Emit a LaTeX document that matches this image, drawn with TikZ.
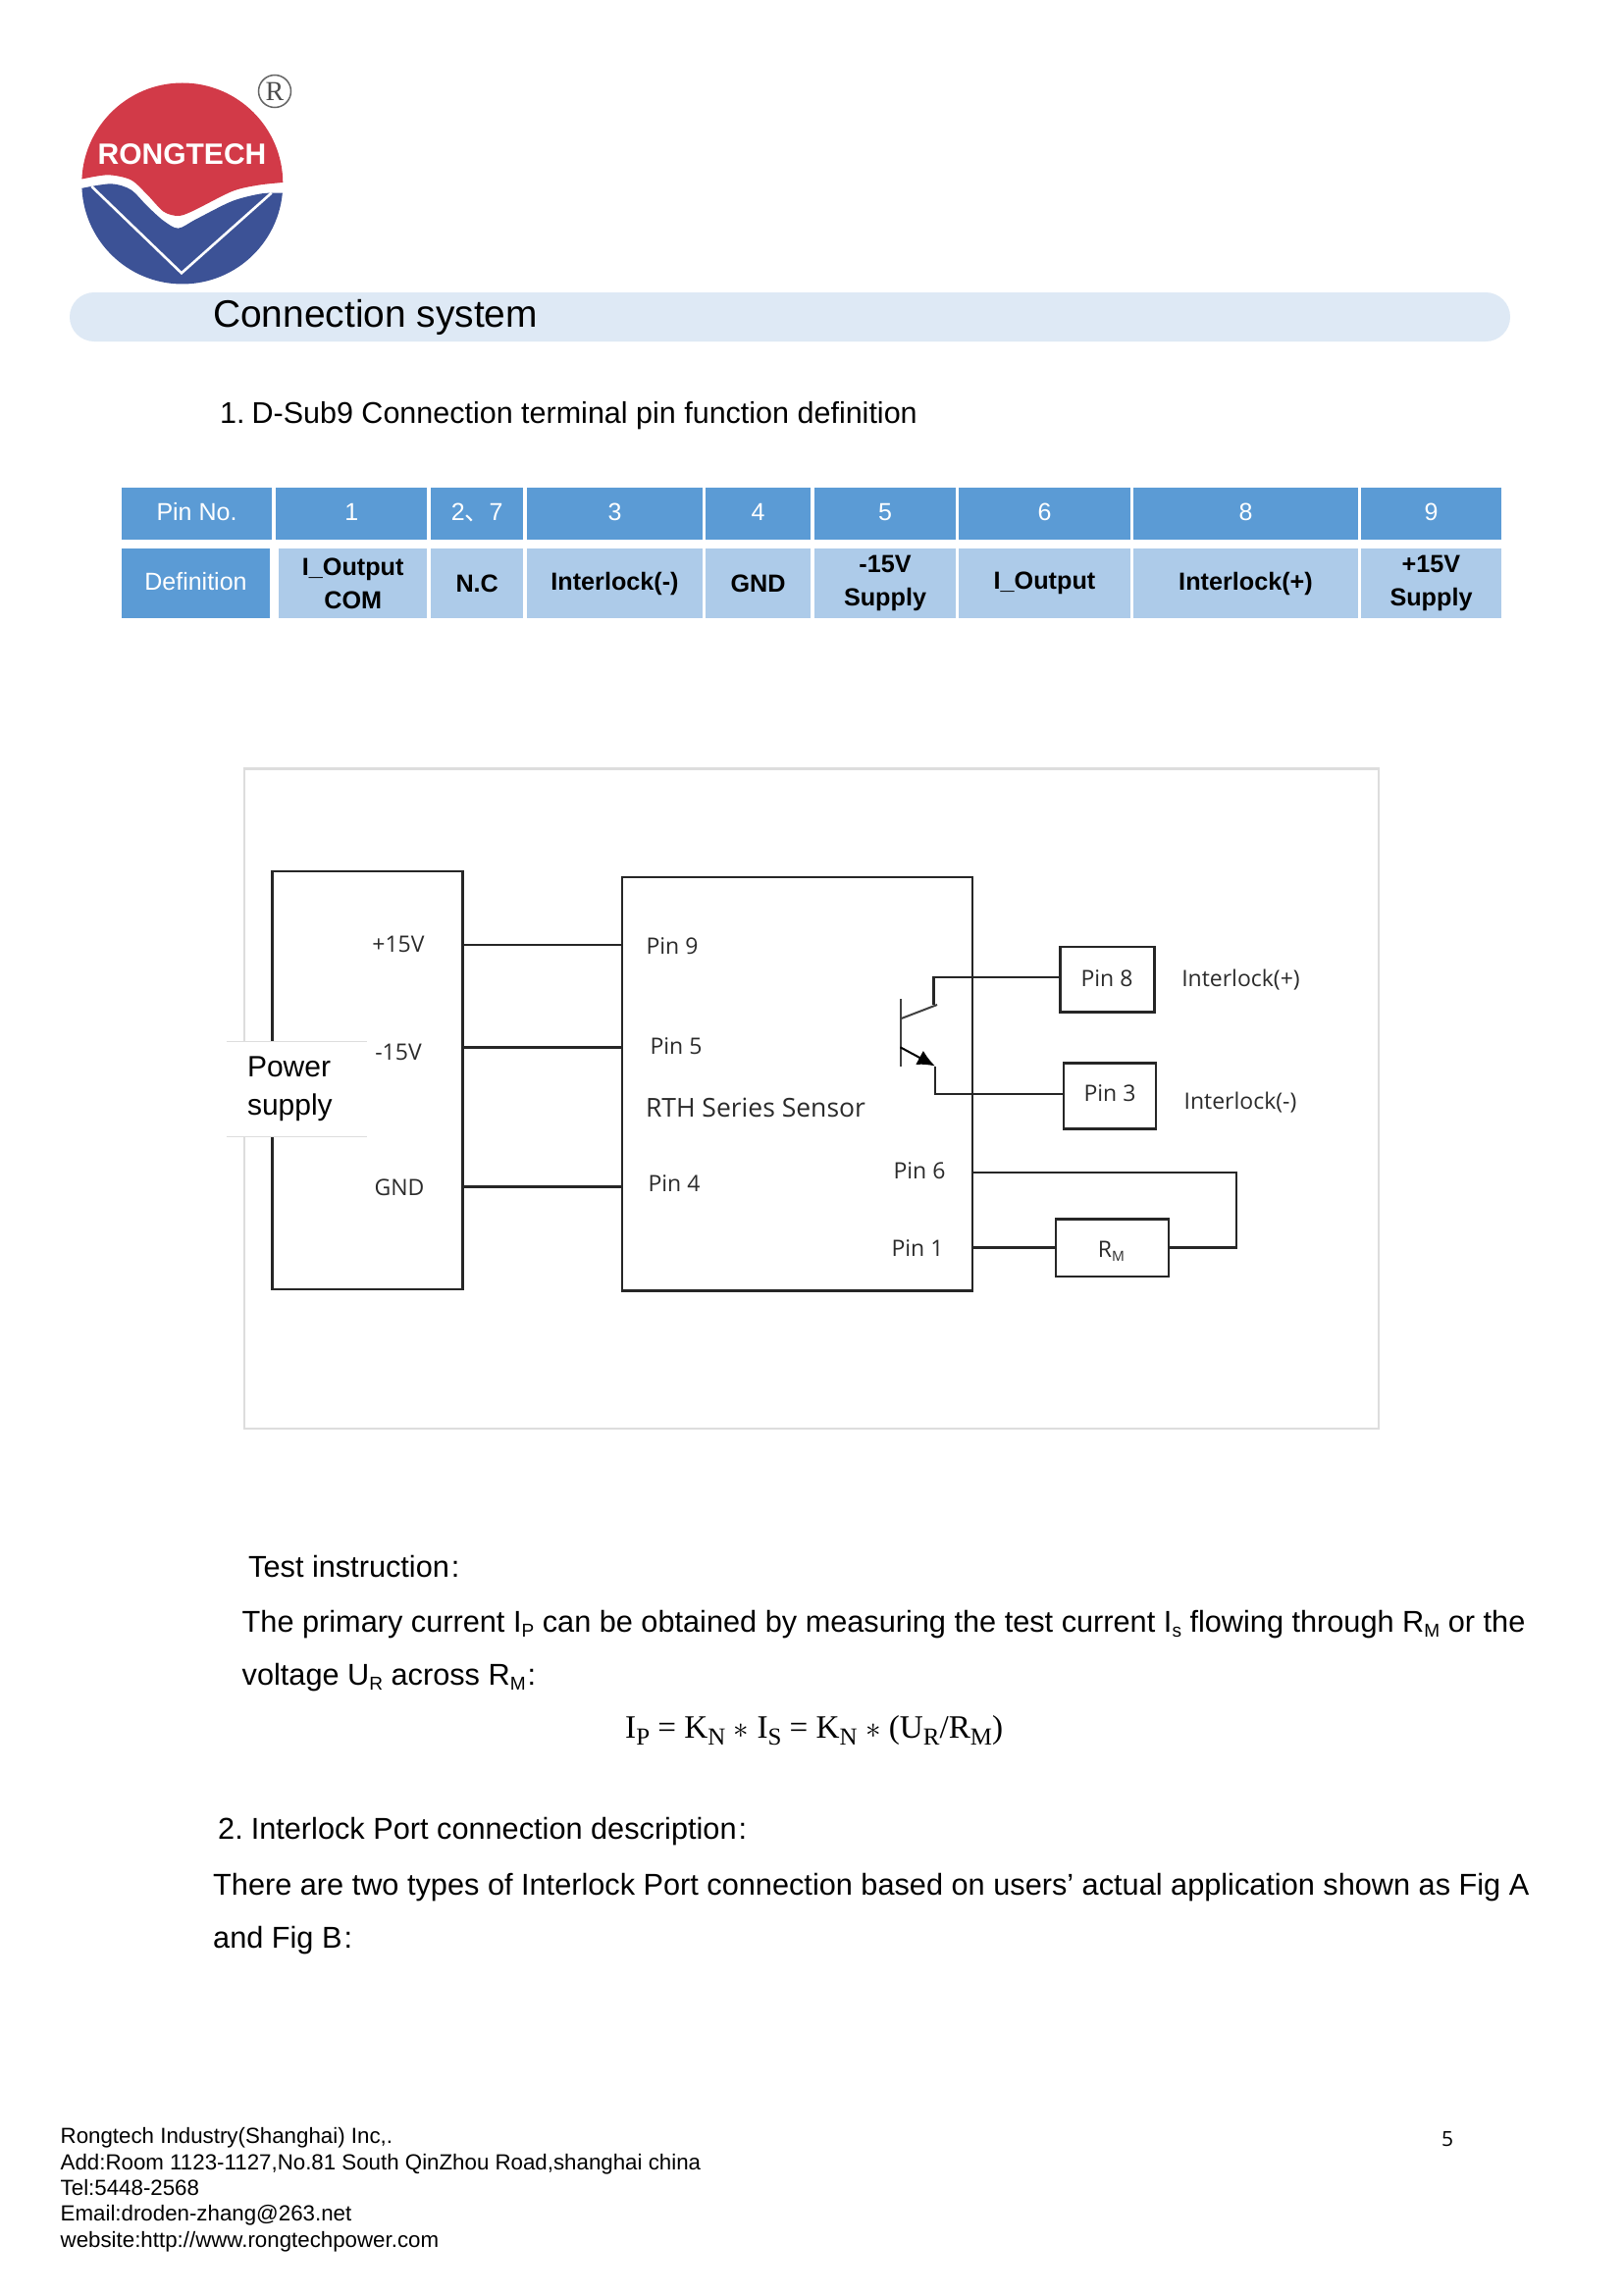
\documentclass[tikz,border=0pt]{standalone}
\usepackage{fontspec}
\usepackage{graphicx}
\setmainfont{Liberation Sans}
\newfontfamily\labelfont{Open Sans}
\newfontfamily\formulafont{Liberation Serif}
\newfontfamily\cjkfont{Noto Sans CJK SC}
\usetikzlibrary{arrows.meta}
\definecolor{headblue}{HTML}{5B9BD5}
\definecolor{cellblue}{HTML}{ADCBE9}
\definecolor{barblue}{HTML}{DEE9F5}
\definecolor{logored}{HTML}{D23A48}
\definecolor{logoblue}{HTML}{3C5296}
\definecolor{framegray}{HTML}{DDDDDD}
\definecolor{inkgray}{HTML}{2B2B2B}
\newcommand{\lowsub}[1]{\raisebox{-0.18em}{\scalebox{0.62}{#1}}}
\newcommand{\formsub}[1]{\raisebox{-0.22em}{\scalebox{0.75}{#1}}}
\begin{document}
\begin{tikzpicture}[x=1pt,y=-1pt,
  headcell/.style={fill=headblue,text=white,inner sep=0pt,minimum height=53pt,text height=18pt,text depth=4.4pt,font=\fontsize{25}{30}\selectfont},
  defcell/.style={fill=cellblue,text=black,inner sep=0pt,minimum height=71pt,align=center,font=\bfseries\fontsize{25.2}{34}\selectfont},
  textline/.style={anchor=base west,inner sep=0pt,font=\fontsize{30.7}{36}\selectfont},
  footline/.style={anchor=base west,inner sep=0pt,font=\fontsize{22.3}{27}\selectfont},
  blockbox/.style={draw=black!85,line width=2.5pt,inner sep=0pt},
  pinlabel/.style={inner sep=0pt,text=inkgray,font=\labelfont\fontsize{23}{28}\selectfont},
  wire/.style={draw=black!85,line width=2.4pt}]
\useasboundingbox (0,0) rectangle (1654,2339);
\fill[white] (0,0) rectangle (1654,2339);

\begin{scope}[shift={(50,50)},x=0.3333pt,y=-0.3333pt]
\begin{scope}
\clip (407.5,411) circle (307.5);
\fill[logored] (90,90) -- (730,90) -- (730,407) -- (715,408) -- plot[smooth] coordinates {(715,408) (640,416) (560,435) (440,495) (395,510) (350,497) (300,445) (250,400) (180,385) (103,397)} -- (90,398) -- cycle;
\fill[logoblue] (90,427) -- (103,425) -- plot[smooth] coordinates {(103,425) (190,412) (250,430) (300,480) (350,525) (395,548) (450,520) (560,465) (650,442) (715,440)} -- (730,440) -- (730,740) -- (90,740) -- cycle;
\draw[white,line width=2.6pt] (130,420) -- (405,685) -- (680,440);
\end{scope}
\end{scope}
\node[draw=black!60,line width=1.5pt,circle,minimum size=33pt,inner sep=0pt,text=black!70,font=\formulafont\fontsize{28}{28}\selectfont] (REG) at (280,93) {R};
\node[white,inner sep=0pt,font=\bfseries\fontsize{30}{30}\selectfont] (BRAND) at (185.5,157) {RONGTECH};

\fill[barblue,rounded corners=25pt] (71,298) rectangle (1539,348);
\node[textline,font=\fontsize{38.9}{44}\selectfont] (TITLE) at (217,333) {Connection system};

\node[textline,font=\fontsize{30.5}{36}\selectfont] (T1) at (224,431) {1.\hspace{7pt}D-Sub9 Connection terminal pin function definition};

\node[headcell,minimum width=153pt] (H1) at (200.5,523.5) {Pin No.};
\node[headcell,minimum width=154.5pt] (H2) at (358.2,523.5) {1};
\node[headcell,minimum width=94.5pt] (H3) at (486.2,523.5) {2{\cjkfont 、}7};
\node[headcell,minimum width=179pt] (H4) at (626.5,523.5) {3};
\node[headcell,minimum width=107pt] (H5) at (772.5,523.5) {4};
\node[headcell,minimum width=144pt] (H6) at (902,523.5) {5};
\node[headcell,minimum width=175pt] (H7) at (1064.5,523.5) {6};
\node[headcell,minimum width=229pt] (H8) at (1269.5,523.5) {8};
\node[headcell,minimum width=143pt] (H9) at (1458.5,523.5) {9};

\node[headcell,minimum width=151pt,minimum height=71pt] (D1) at (199.5,594.5) {Definition};
\node[defcell,minimum width=151.5pt] (D2) at (359.7,594.5) {I\_Output\\COM};
\node[defcell,minimum width=94.5pt] (D3) at (486.2,594.5) {N.C};
\node[defcell,minimum width=179pt] (D4) at (626.5,594.5) {Interlock(-)};
\node[defcell,minimum width=107pt] (D5) at (772.5,594.5) {GND};
\node[defcell,minimum width=144pt] (D6) at (902,594.5) {-15V\\Supply};
\node[defcell,minimum width=175pt] (D7) at (1064.5,594.5) {I\_Output};
\node[defcell,minimum width=229pt] (D8) at (1269.5,594.5) {Interlock(+)};
\node[defcell,minimum width=143pt] (D9) at (1458.5,594.5) {+15V\\Supply};

\draw[framegray,line width=2.5pt] (249,783.5) rectangle (1405,1456);

\node[blockbox,minimum width=194pt,minimum height=426pt] (PS) at (374.3,1100.8) {};
\node[blockbox,minimum width=357pt,minimum height=421.6pt] (RS) at (812.5,1104.7) {};
\node[blockbox,minimum width=96pt,minimum height=66.4pt] (P8) at (1128.5,998.2) {};
\node[blockbox,minimum width=94pt,minimum height=67pt] (P3) at (1131,1117.1) {};
\node[blockbox,minimum width=115pt,minimum height=58.4pt] (RM) at (1133.5,1271.6) {};

\node[fill=white,inner ysep=0pt,inner xsep=21pt,text width=101pt,minimum height=96pt,align=left,font=\fontsize{30}{38.6}\selectfont] (PSL) at (302.5,1110) {Power\\supply};
\draw[framegray,line width=1pt] (PSL.north west) -- (PSL.north east);
\draw[framegray,line width=1pt] (PSL.south west) -- (PSL.south east);

\node[pinlabel] (V1) at (406,962) {+15V};
\node[pinlabel] (V2) at (406,1072) {-15V};
\node[pinlabel] (V3) at (407,1210) {GND};
\node[pinlabel] (L9) at (685,964) {Pin 9};
\node[pinlabel] (L5) at (689,1066) {Pin 5};
\node[pinlabel,font=\labelfont\fontsize{26.5}{30}\selectfont] (LS) at (770,1128.6) {RTH Series Sensor};
\node[pinlabel] (L4) at (687,1206) {Pin 4};
\node[pinlabel] (L6) at (937,1193.5) {Pin 6};
\node[pinlabel] (L1) at (935,1272) {Pin 1};
\node[pinlabel] (L8) at (1128,996.7) {Pin 8};
\node[pinlabel] (L3) at (1131,1113.9) {Pin 3};
\node[pinlabel] (LP) at (1264.5,998.6) {Interlock(+)};
\node[pinlabel] (LN) at (1264,1123.4) {Interlock(-)};
\node[pinlabel] (LM) at (1132.5,1275.5) {R\lowsub{M}};

\coordinate (W9) at (0,962.9);
\coordinate (W5) at (0,1067.3);
\coordinate (W4) at (0,1209.4);
\coordinate (W6) at (0,1194.7);
\coordinate (W1) at (0,1271.4);
\coordinate (CC) at (951.5,996);
\coordinate (CE) at (953,1115);
\coordinate (CT) at (955,1024);
\coordinate (ET) at (953,1086.5);
\coordinate (BT) at (917.5,1038.4);
\coordinate (BE) at (917.5,1067.3);
\coordinate (BU) at (917.5,1018.4);
\coordinate (BD) at (917.5,1086.5);
\coordinate (RR) at (1260,1194.7);

\draw[wire] (PS.east |- W9) -- (RS.west |- W9);
\draw[wire] (PS.east |- W5) -- (RS.west |- W5);
\draw[wire] (PS.east |- W4) -- (RS.west |- W4);
\draw[wire] (CT -| CC) -- (CC) -- (P8.west |- CC);
\draw[wire] (ET) -- (CE) -- (P3.west |- CE);
\draw[wire] (RS.east |- W6) -- (RR) -- (RR |- W1) -- (RM.east |- W1);
\draw[wire] (RS.east |- W1) -- (RM.west |- W1);
\draw[line width=2pt,draw=black!75] (BU) -- (BD);
\draw[line width=2pt,draw=black!75] (BT) -- (CT);
\draw[line width=2pt,draw=black,-{Latex[length=18pt,width=16pt]}] (BE) -- (ET);

\node[textline] (T2) at (253,1607) {Test instruction\hspace{2pt}:};
\node[textline] (T3) at (246.5,1663) {The primary current I\lowsub{P} can be obtained by measuring the test current I\lowsub{s} flowing through R\lowsub{M} or the};
\node[textline] (T4) at (246.5,1717) {voltage U\lowsub{R} across R\lowsub{M}\hspace{2pt}:};
\node[textline,font=\formulafont\fontsize{33.2}{36}\selectfont] (FORM) at (637,1771) {I\formsub{P} = K\formsub{N} \scalebox{1.25}{$\ast$} I\formsub{S} = K\formsub{N} \scalebox{1.25}{$\ast$} (U\formsub{R}/R\formsub{M})};
\node[textline] (T5) at (222,1874) {2.\hspace{8pt}Interlock Port connection description\hspace{2pt}:};
\node[textline] (T6) at (217,1931) {There are two types of Interlock Port connection based on users’ actual application shown as Fig A};
\node[textline] (T7) at (217,1985) {and Fig B\hspace{2pt}:};

\node[footline] (F1) at (61.5,2184) {Rongtech Industry(Shanghai) Inc,.};
\node[footline] (F2) at (61.5,2211) {Add:Room 1123-1127,No.81 South QinZhou Road,shanghai china};
\node[footline] (F3) at (61.5,2237) {Tel:5448-2568};
\node[footline] (F4) at (61.5,2263.5) {Email:droden-zhang@263.net};
\node[footline] (F5) at (61.5,2290) {website:http://www.rongtechpower.com};
\node[inner sep=0pt,font=\labelfont\fontsize{21}{25}\selectfont] (PAGE) at (1475,2180) {5};
\end{tikzpicture}
\end{document}
